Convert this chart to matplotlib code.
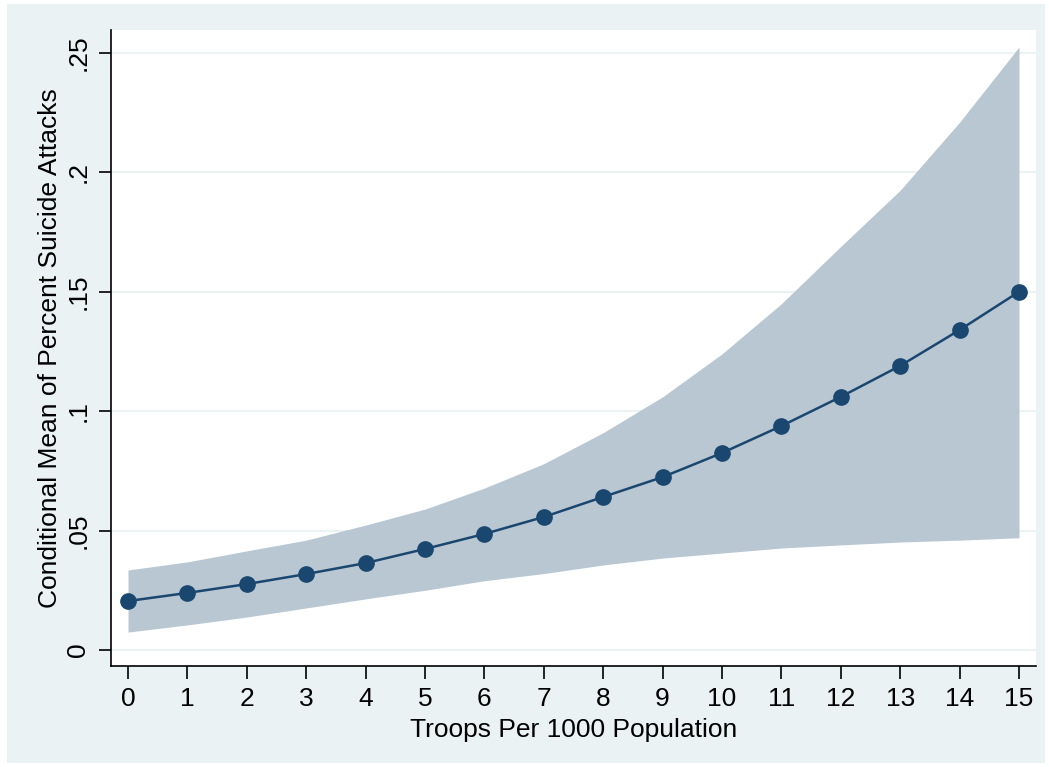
import matplotlib.pyplot as plt
from matplotlib.patches import Rectangle

troops = [0, 1, 2, 3, 4, 5, 6, 7, 8, 9, 10, 11, 12, 13, 14, 15]
mean_pct = [0.0205, 0.0239, 0.0276, 0.0318, 0.0364, 0.0423, 0.0486, 0.0557,
            0.0641, 0.0724, 0.0825, 0.0938, 0.106, 0.119, 0.134, 0.150]
upper_ci = [0.0335, 0.0369, 0.0415, 0.046, 0.0523, 0.059, 0.0678, 0.078,
            0.091, 0.106, 0.124, 0.145, 0.169, 0.1925, 0.221, 0.2525]
lower_ci = [0.0075, 0.0105, 0.0138, 0.0176, 0.0214, 0.025, 0.029, 0.032,
            0.0356, 0.0385, 0.0406, 0.0427, 0.044, 0.0452, 0.046, 0.047]
y_ticks = [0, 0.05, 0.1, 0.15, 0.2, 0.25]
y_labels = ['0', '.05', '.1', '.15', '.2', '.25']

plt.rcParams['font.family'] = ['Liberation Sans', 'DejaVu Sans']

bg = '#EAF2F3'
fig = plt.figure(figsize=(10.49, 7.67), dpi=100, facecolor='white')
fig.patches.append(Rectangle((7 / 1049, 4 / 767), 1038 / 1049, 759 / 767,
                             transform=fig.transFigure, facecolor=bg,
                             edgecolor='none', zorder=-10))
ax = fig.add_axes([111 / 1049, 1 - 666 / 767, 925 / 1049, 636 / 767])
ax.set_facecolor('white')

ax.fill_between(troops, lower_ci, upper_ci, color='#B9C7D3', linewidth=0, zorder=2)
ax.plot(troops, mean_pct, color='#1A476F', linewidth=1.8, marker='o',
        markersize=11, zorder=3)

ax.set_xlim(-0.286, 15.286)
ax.set_ylim(-0.0067, 0.2596)
ax.set_xticks(troops)
ax.set_yticks(y_ticks)
ax.set_yticklabels(y_labels, rotation=90, va='center')
ax.yaxis.grid(True, color=bg, linewidth=1.5, zorder=1)
ax.set_axisbelow(True)

for side in ['top', 'right']:
    ax.spines[side].set_visible(False)
ax.spines['left'].set_linewidth(1.2)
ax.spines['bottom'].set_linewidth(1.2)
ax.tick_params(axis='both', direction='out', length=9, width=1.2,
               labelsize=19, pad=6)

ax.set_xlabel('Troops Per 1000 Population', fontsize=19, labelpad=5)
ax.set_ylabel('Conditional Mean of Percent Suicide Attacks', fontsize=19, labelpad=3)

fig.savefig('out.png', dpi=100, facecolor='white')
